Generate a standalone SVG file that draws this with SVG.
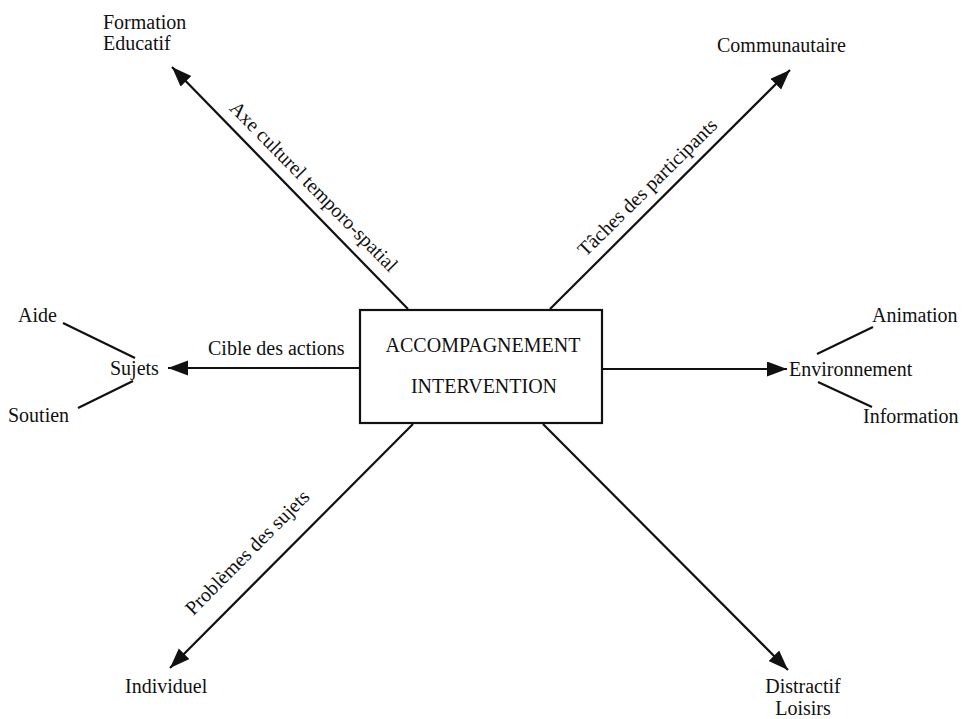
<svg xmlns="http://www.w3.org/2000/svg" width="964" height="719" viewBox="0 0 964 719">
<style>
text{font-family:"Liberation Serif","Times New Roman",serif;font-size:20px;fill:#111}
.c{stroke:#111;stroke-width:2.2;fill:none}
.a{marker-end:url(#ah)}
.box{fill:#fff;stroke:#111;stroke-width:2.2}
</style>
<defs>
<marker id="ah" markerUnits="userSpaceOnUse" markerWidth="22" markerHeight="16" refX="20" refY="7.5" orient="auto">
<path d="M0,0 L20,7.5 L0,15 Z" fill="#111"/>
</marker>
</defs>
<g id="connectors">
<line class="c a" x1="408" y1="309" x2="172" y2="67"/>
<line class="c a" x1="550" y1="309" x2="790" y2="70"/>
<line class="c a" x1="360" y1="368" x2="168" y2="368"/>
<line class="c a" x1="602" y1="369" x2="787" y2="369"/>
<line class="c a" x1="413" y1="424" x2="170" y2="668"/>
<line class="c a" x1="543" y1="424" x2="788" y2="670"/>
<line class="c" x1="63" y1="323" x2="135" y2="358"/>
<line class="c" x1="78" y1="408" x2="133" y2="381"/>
<line class="c" x1="817" y1="354" x2="873" y2="327"/>
<line class="c" x1="818" y1="382" x2="872" y2="407"/>
<text x="309" y="191" text-anchor="middle" font-size="20.5" transform="rotate(45.5 309 191)">Axe culturel temporo-spatial</text>
<text x="652" y="192" text-anchor="middle" font-size="20.5" transform="rotate(-44.6 652 192)">Tâches des participants</text>
<text x="208" y="355">Cible des actions</text>
<text x="252" y="557" text-anchor="middle" font-size="20.5" transform="rotate(-45.2 252 557)">Problèmes des sujets</text>
</g>
<g id="center">
<rect class="box" x="360" y="310" width="242" height="113"/>
<text x="483" y="352" text-anchor="middle">ACCOMPAGNEMENT</text>
<text x="484" y="393" text-anchor="middle">INTERVENTION</text>
</g>
<g id="formation">
<text x="103" y="29">Formation</text>
<text x="103" y="50">Educatif</text>
</g>
<g id="communautaire"><text x="717" y="52">Communautaire</text></g>
<g id="sujets"><text x="110" y="375">Sujets</text></g>
<g id="aide"><text x="18" y="322">Aide</text></g>
<g id="soutien"><text x="8" y="422">Soutien</text></g>
<g id="environnement"><text x="789" y="376">Environnement</text></g>
<g id="animation"><text x="872" y="322">Animation</text></g>
<g id="information"><text x="863" y="423">Information</text></g>
<g id="individuel"><text x="125" y="693">Individuel</text></g>
<g id="distractif">
<text x="803" y="693" text-anchor="middle">Distractif</text>
<text x="803" y="715" text-anchor="middle">Loisirs</text>
</g>
</svg>
